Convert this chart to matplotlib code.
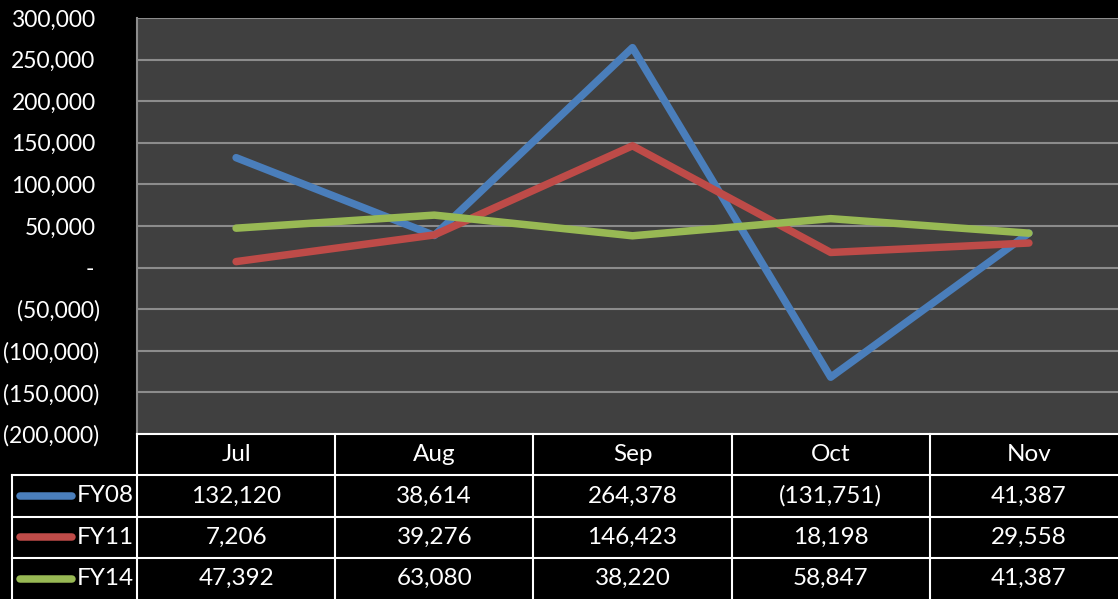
import numpy as np
import matplotlib.pyplot as plt
from matplotlib.lines import Line2D

months = ["Jul", "Aug", "Sep", "Oct", "Nov"]
series_names = ["FY08", "FY11", "FY14"]
fy08 = [132120, 38614, 264378, -131751, 41387]
fy11 = [7206, 39276, 146423, 18198, 29558]
fy14 = [47392, 63080, 38220, 58847, 41387]
colors = ["#4a7ebb", "#be4b48", "#98b954"]

plt.rcParams['font.family'] = ['Lato', 'DejaVu Sans']


def fmt(v):
    if v == 0:
        return "-"
    if v < 0:
        return "({:,})".format(-v)
    return "{:,}".format(v)


W, H = 1118, 599
fig = plt.figure(figsize=(W / 100, H / 100), dpi=100, facecolor="black")

# plot area in pixels (runs a little past the right edge, as in the original)
x0, x1 = 137, 1128
y_top, y_bot = 18, 434
ax = fig.add_axes([x0 / W, 1 - y_bot / H, (x1 - x0) / W, (y_bot - y_top) / H])
ax.set_facecolor("#404040")

x = np.arange(len(months))
for vals, c in zip([fy08, fy11, fy14], colors):
    ax.plot(x, vals, color=c, lw=5.4, solid_capstyle="round", zorder=3)

ax.set_xlim(-0.5, len(months) - 0.5)
ax.set_ylim(-200000, 300000)
ticks = np.arange(-200000, 300001, 50000)
ax.set_yticks(ticks)
ax.set_yticklabels([fmt(int(t)) for t in ticks], color="white", fontsize=16.5)
ax.set_xticks([])
ax.grid(axis="y", color="#8c8c8c", lw=1.5)
ax.set_axisbelow(True)
ax.tick_params(axis="y", length=0, pad=27)
# accounting-style alignment: non-negative labels sit a bit further left
for lab, t in zip(ax.get_yticklabels(), ticks):
    if t > 0:
        lab.set_x(-0.004)
    elif t == 0:
        lab.set_x(-0.006)
for s in ["top", "right", "bottom"]:
    ax.spines[s].set_visible(False)
ax.spines["left"].set_color("#8c8c8c")
ax.spines["left"].set_linewidth(1.5)

# data table below the plot area
col_w = (x1 - x0) / len(months)
row_h = 41.3
lab_x0 = 12
tcol = "white"


def fx(px):
    return px / W


def fy(py):
    return 1 - py / H


def hline(xa, xb, py):
    fig.add_artist(Line2D([fx(xa), fx(xb)], [fy(py), fy(py)], color=tcol, lw=1.5))


def vline(px, ya, yb):
    fig.add_artist(Line2D([fx(px), fx(px)], [fy(ya), fy(yb)], color=tcol, lw=1.5))


hline(x0, W, y_bot)
for r in range(1, 4):
    hline(lab_x0, W, y_bot + r * row_h)
vline(lab_x0, y_bot + row_h, H)
for i in range(len(months)):
    vline(x0 + i * col_w, y_bot, H)

for i, m in enumerate(months):
    fig.text(fx(x0 + (i + 0.5) * col_w), fy(y_bot + row_h / 2), m,
             color="white", fontsize=17.5, ha="center", va="center")

for r, (name, vals, c) in enumerate(zip(series_names, [fy08, fy11, fy14], colors)):
    cy = y_bot + (r + 1.5) * row_h
    fig.add_artist(Line2D([fx(20), fx(72)], [fy(cy), fy(cy)], color=c, lw=5.4,
                          solid_capstyle="round"))
    fig.text(fx(77), fy(cy), name, color="white", fontsize=17.5, ha="left", va="center")
    for i, v in enumerate(vals):
        fig.text(fx(x0 + (i + 0.5) * col_w), fy(cy), fmt(v),
                 color="white", fontsize=17.5, ha="center", va="center")

fig.savefig("out.png", dpi=100, facecolor="black")
